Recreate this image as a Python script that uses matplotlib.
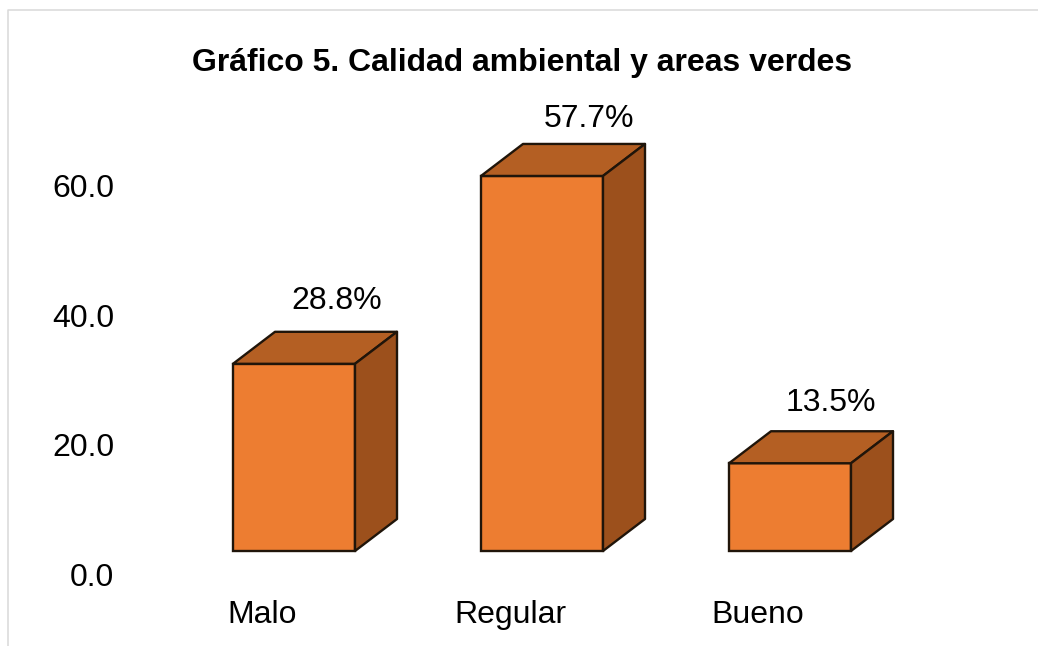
import matplotlib
matplotlib.use('Agg')
import matplotlib.pyplot as plt
from matplotlib.lines import Line2D
from matplotlib.patches import Polygon
from matplotlib.transforms import ScaledTranslation
import numpy as np

categories = ['Malo', 'Regular', 'Bueno']
values = [28.8, 57.7, 13.5]
value_labels = ['28.8%', '57.7%', '13.5%']
y_ticks = [0, 20, 40, 60]
y_tick_labels = ['0.0', '20.0', '40.0', '60.0']

W, H = 1038, 646
plt.rcParams['font.family'] = ['Liberation Sans', 'DejaVu Sans']

fig = plt.figure(figsize=(W / 100, H / 100), dpi=100)

# axes box in pixels, from the top left of the picture
left, right, top, bottom = 120, 1030, 100, 590
ax = fig.add_axes([left / W, 1 - bottom / H, (right - left) / W, (bottom - top) / H])

# category spacing and value scale of the bars
px_per_cat = 248.0
px_per_val = 6.5
x0_px, y0_px = 294.0, 551.0
ax.set_xlim((left - x0_px) / px_per_cat, (right - x0_px) / px_per_cat)
ax.set_ylim((y0_px - bottom) / px_per_val, (y0_px - top) / px_per_val)

bar_w = 122 / px_per_cat
dx = 42 / px_per_cat
dy = 32 / px_per_val
edge = '#20150a'
lw = 1.7
fs = 23


def px_offset(x, y):
    return ScaledTranslation(x / 100, -y / 100, fig.dpi_scale_trans)


x = np.arange(len(categories))
ax.bar(x, values, width=bar_w, color='#ed7d31', edgecolor=edge, linewidth=lw, zorder=3)
for xi, v in zip(x, values):
    l, r = xi - bar_w / 2, xi + bar_w / 2
    ax.add_patch(Polygon([(l, v), (r, v), (r + dx, v + dy), (l + dx, v + dy)],
                         facecolor='#b45f23', edgecolor=edge, linewidth=lw, joinstyle='round', zorder=3))
    ax.add_patch(Polygon([(r, 0), (r + dx, dy), (r + dx, v + dy), (r, v)],
                         facecolor='#9c501c', edgecolor=edge, linewidth=lw, joinstyle='round', zorder=3))

# data labels were placed by hand in the original
label_dx = [43, 47, 41]
label_dy = [-63, -57, -60]
for xi, v, txt, ldx, ldy in zip(x, values, value_labels, label_dx, label_dy):
    ax.text(xi, v, txt, fontsize=fs, ha='center', va='center',
            transform=ax.transData + px_offset(ldx, ldy))

ax.set_xticks(x)
ax.set_xticklabels(categories, fontsize=fs)
ax.tick_params(axis='x', length=0, pad=7.3)
for lab in ax.get_xticklabels():
    lab.set_transform(lab.get_transform() + px_offset(-32, 0))
ax.set_yticks([])
for s in ax.spines.values():
    s.set_visible(False)
ax.patch.set_alpha(0)

# value axis has a slightly different scale and sits in front of the bars
ax2 = ax.twinx()
ax2.set_ylim((574 - bottom) / 6.47, (574 - top) / 6.47)
ax2.yaxis.tick_left()
ax2.set_yticks(y_ticks)
ax2.set_yticklabels(y_tick_labels, fontsize=fs)
ax2.tick_params(axis='y', length=0, pad=4)
for s in ax2.spines.values():
    s.set_visible(False)

fig.text(522.5 / W, 1 - 63 / H, 'Gráfico 5. Calidad ambiental y areas verdes',
         fontsize=fs, fontweight='bold', ha='center', va='center')

# border of the chart area, cropped on the right and at the bottom
fig.add_artist(Line2D([7.5 / W, 7.5 / W, 1], [0, 1 - 9.5 / H, 1 - 9.5 / H],
                      color='#d9d9d9', linewidth=1.1))

fig.savefig('out.png', dpi=100, facecolor='white')
